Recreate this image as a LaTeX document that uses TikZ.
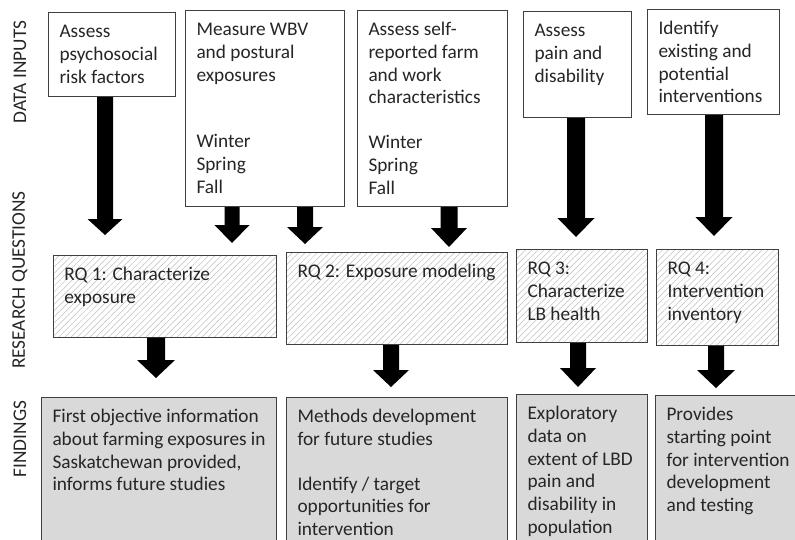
\documentclass[tikz,border=0pt]{standalone}
\usepackage{fontspec}
\setmainfont{Carlito}
\usetikzlibrary{calc,patterns.meta}
\newcommand\boxtxt[3]{\parbox[c][#2][t]{#1}{\raggedright\rule{0pt}{16pt}#3}}
\newcommand\blockarrow[5]{%
  \fill[barrow] let \p1=#1, \p2=#2 in
  (\x1-#3pt,\y1) -- (\x1+#3pt,\y1) -- (\x1+#3pt,\y2+#5pt) -- (\x1+#4pt,\y2+#5pt)
  -- (\x1,\y2) -- (\x1-#4pt,\y2+#5pt) -- (\x1-#3pt,\y2+#5pt) -- cycle;}
\tikzset{
  base/.style={draw=black!75, line width=1pt, inner xsep=11pt, inner ysep=9pt,
    anchor=north west, text=black!85, font=\fontsize{19.3}{22.8}\selectfont},
  inbox/.style={base, fill=white},
  rqbox/.style={base, pattern={Lines[angle=45,distance=4.4pt,line width=0.5pt]}, pattern color=black!25},
  fdbox/.style={base, fill=black!15},
  barrow/.style={fill=black},
  side/.style={rotate=90, text=black!85, font=\fontsize{19.3}{23}\selectfont, inner sep=0pt}
}
\begin{document}
\begin{tikzpicture}[x=1pt,y=-1pt]
\useasboundingbox (0,0) rectangle (795,539);
\clip (0,0) rectangle (795,539);
\fill[white] (0,0) rectangle (795,539);

% side labels
\node[side] (lin) at (20,72) {DATA INPUTS};
\node[side] (lrq) at (20,280) {RESEARCH QUESTIONS};
\node[side] (lfd) at (20,439) {FINDINGS};

% data inputs
\node[inbox] (A) at (48,12) {\boxtxt{105pt}{66pt}{Assess\\psychosocial\\risk factors}};
\node[inbox] (B) at (185,10) {\boxtxt{137pt}{178pt}{Measure WBV\\and postural\\exposures\\[44pt]Winter\\Spring\\Fall}};
\node[inbox] (C) at (357,10) {\boxtxt{128pt}{178pt}{Assess self-\\reported farm\\and work\\characteristics\\[22pt]Winter\\Spring\\Fall}};
\node[inbox] (D) at (523,11) {\boxtxt{86pt}{88pt}{Assess\\pain and\\disability}};
\node[inbox] (E) at (647,9) {\boxtxt{110pt}{87pt}{Identify\\existing and\\potential\\interventions}};

% research questions
\node[rqbox] (RQ1) at (53,255) {\boxtxt{201pt}{64pt}{RQ 1: Characterize\\exposure}};
\node[rqbox] (RQ2) at (286,252) {\boxtxt{199pt}{74pt}{RQ 2: Exposure modeling}};
\node[rqbox] (RQ3) at (516,249) {\boxtxt{109pt}{75pt}{RQ 3:\\Characterize\\LB health}};
\node[rqbox] (RQ4) at (656,249) {\boxtxt{100pt}{78pt}{RQ 4:\\Intervention\\inventory}};

% findings
\node[fdbox] (F1) at (41,397) {\boxtxt{213pt}{142pt}{First objective information\\about farming exposures in\\Saskatchewan provided,\\informs future studies}};
\node[fdbox] (F2) at (286,397) {\boxtxt{199pt}{142pt}{Methods development\\for future studies\\[22pt]Identify / target\\opportunities for\\intervention}};
\node[fdbox] (F3) at (516,394) {\boxtxt{109pt}{142pt}{Exploratory\\data on\\extent of LBD\\pain and\\disability in\\population}};
\node[fdbox] (F4) at (655,395) {\boxtxt{128pt}{142pt}{Provides\\starting point\\for intervention\\development\\and testing}};

% arrows: inputs -> research questions
\blockarrow{(A.south -| 105,0)}{($(RQ1.north -| 105,0)+(0,-20)$)}{8}{17.5}{16}
\blockarrow{(B.south -| 232,0)}{($(RQ1.north -| 232,0)+(0,-12)$)}{7.5}{17.5}{18}
\blockarrow{(B.south -| 305,0)}{($(RQ2.north -| 305,0)+(0,-8)$)}{8}{18}{17}
\blockarrow{(C.south -| 449,0)}{($(RQ2.north -| 449,0)+(0,-5)$)}{8.5}{18}{19}
\blockarrow{(D.south -| 576,0)}{($(RQ3.north -| 576,0)+(0,-12)$)}{9}{18.5}{19}
\blockarrow{(E.south -| 714,0)}{($(RQ4.north -| 714,0)+(0,-13)$)}{9}{18.5}{19}

% arrows: research questions -> findings
\blockarrow{(RQ1.south -| 156,0)}{($(F1.north -| 156,0)+(0,-19)$)}{9}{19}{18}
\blockarrow{(RQ2.south -| 391,0)}{($(F2.north -| 391,0)+(0,-10)$)}{8}{18}{17}
\blockarrow{(RQ3.south -| 578,0)}{($(F3.north -| 578,0)+(0,-7)$)}{8}{18}{19}
\blockarrow{(RQ4.south -| 716,0)}{($(F4.north -| 716,0)+(0,-7)$)}{8}{19}{18}
\end{tikzpicture}
\end{document}
